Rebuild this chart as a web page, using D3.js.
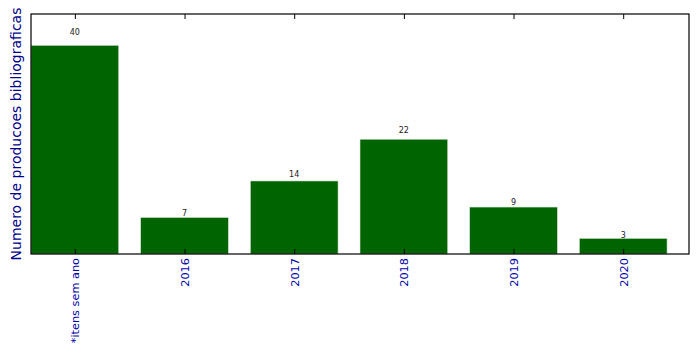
<!DOCTYPE html>
<html><head><meta charset="utf-8">
<script src="https://cdn.jsdelivr.net/npm/d3@7"></script>
<style>body{margin:0;background:#fff}svg{display:block}</style>
</head><body>
<svg id="c" width="699" height="354"></svg>
<script>
const categories = ["*itens sem ano","2016","2017","2018","2019","2020"];
const values = [40,7,14,22,9,3];
const yLabel = "Numero de producoes bibliograficas";

(function(){
const svg = d3.select("#c");
const mL = 31, mR = 689, mT = 14, mB = 254;
const x = d3.scaleLinear().domain([-0.4, categories.length - 0.4]).range([mL, mR]);
const y = d3.scaleLinear().domain([0, d3.max(values) * 1.15]).range([mB, mT]);
const font = "DejaVu Sans, sans-serif";

svg.append("g").selectAll("rect").data(values).join("rect")
  .attr("x", (d,i) => x(i - 0.4)).attr("width", (d,i) => x(i + 0.4) - x(i - 0.4))
  .attr("y", d => y(d)).attr("height", d => y(0) - y(d))
  .attr("fill", "#006400").attr("stroke", "#d8e6d8").attr("stroke-width", 0.6);

svg.append("g").selectAll("text").data(values).join("text")
  .attr("x", (d,i) => x(i)).attr("y", d => y(d * 1.05))
  .attr("text-anchor", "middle").attr("font-family", font).attr("font-size", 8)
  .attr("fill", "#222").text(d => d);

svg.append("rect").attr("x", mL).attr("y", mT).attr("width", mR-mL).attr("height", mB-mT)
  .attr("fill", "none").attr("stroke", "#000").attr("stroke-width", 1.2);

const ticks = d3.range(categories.length);
const bAxis = svg.append("g").attr("transform", `translate(0,${mB})`)
  .call(d3.axisBottom(x).tickValues(ticks).tickSizeInner(-5).tickSizeOuter(0).tickFormat((d)=>categories[d]));
bAxis.select(".domain").remove();
bAxis.selectAll(".tick line").attr("stroke", "#000");
bAxis.selectAll(".tick text")
  .attr("transform", "rotate(-90)").attr("text-anchor", "end")
  .attr("x", -4).attr("y", 0).attr("dy", "0.35em")
  .attr("font-family", font).attr("font-size", 11.3).attr("fill", "#0000AA");

const tAxis = svg.append("g").attr("transform", `translate(0,${mT})`)
  .call(d3.axisTop(x).tickValues(ticks).tickSizeInner(-5).tickSizeOuter(0).tickFormat(""));
tAxis.select(".domain").remove();
tAxis.selectAll(".tick line").attr("stroke", "#000");

svg.append("text").attr("transform", `translate(21,${(mT+mB)/2}) rotate(-90)`)
  .attr("text-anchor", "middle").attr("font-family", font).attr("font-size", 14)
  .attr("fill", "#00008B").text(yLabel);
})();
</script>
</body></html>
